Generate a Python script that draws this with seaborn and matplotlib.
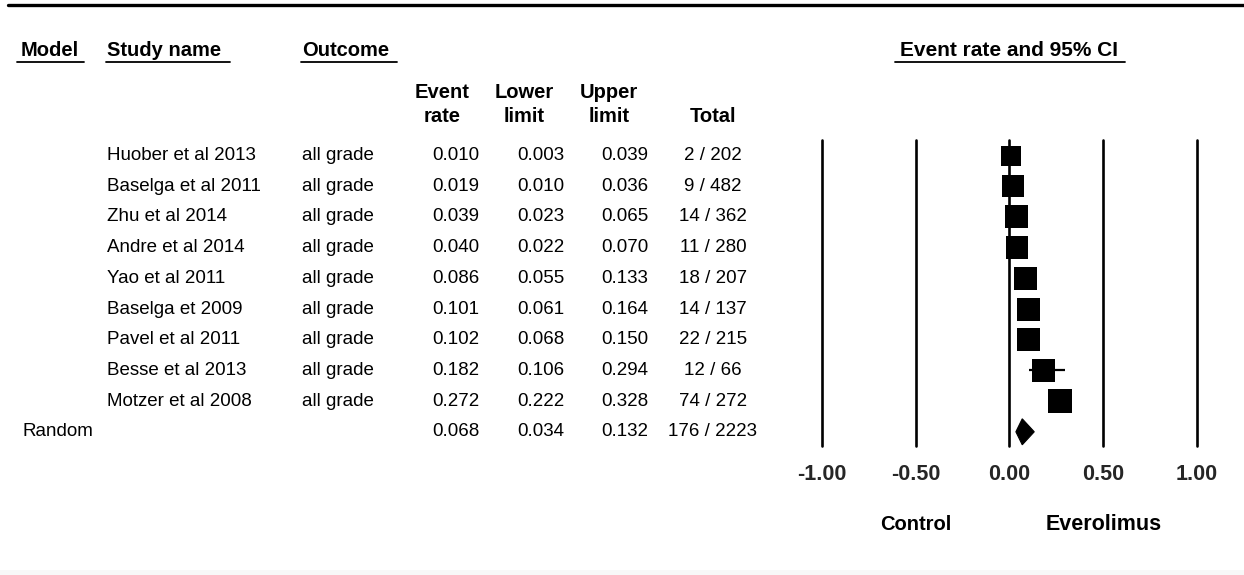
import matplotlib
matplotlib.use("Agg")
import matplotlib.pyplot as plt
from matplotlib.lines import Line2D
from matplotlib.patches import Polygon, Rectangle
from matplotlib.transforms import blended_transform_factory
import numpy as np
import pandas as pd
import seaborn as sns

# ---- study-level data -------------------------------------------------------
studies = ["Huober et al 2013", "Baselga et al 2011", "Zhu et al 2014",
           "Andre et al 2014", "Yao et al 2011", "Baselga et 2009",
           "Pavel et al 2011", "Besse et al 2013", "Motzer et al 2008"]
outcomes = ["all grade"] * 9
event_rate = [0.010, 0.019, 0.039, 0.040, 0.086, 0.101, 0.102, 0.182, 0.272]
lower_limit = [0.003, 0.010, 0.023, 0.022, 0.055, 0.061, 0.068, 0.106, 0.222]
upper_limit = [0.039, 0.036, 0.065, 0.070, 0.133, 0.164, 0.150, 0.294, 0.328]
events = [2, 9, 14, 11, 18, 14, 22, 12, 74]
totals = [202, 482, 362, 280, 207, 137, 215, 66, 272]

# ---- pooled (random-effects) estimate ---------------------------------------
pooled_label = "Random"
pooled_rate = 0.068
pooled_lower = 0.034
pooled_upper = 0.132
pooled_events = 176
pooled_total = 2223

axis_ticks = [-1.00, -0.50, 0.00, 0.50, 1.00]
left_label = "Control"
right_label = "Everolimus"

df = pd.DataFrame({
    "study": studies, "outcome": outcomes, "rate": event_rate,
    "lower": lower_limit, "upper": upper_limit,
    "events": events, "total": totals,
})
df["row"] = np.arange(len(df))
pooled_row = len(df)

# box side (px) grows with study weight
box_px = [20, 22.5, 23, 22.5, 23, 23, 23.5, 23, 24]
df["area"] = [(p * 0.72) ** 2 for p in box_px]

# ---- figure -----------------------------------------------------------------
W, H = 1244, 575
sns.set_theme(style="white")
plt.rcParams["font.family"] = ["Liberation Sans", "DejaVu Sans"]

fig = plt.figure(figsize=(W / 100, H / 100), dpi=100)
fig.patch.set_facecolor("white")

def fx(px):
    return px / W

def fy(py):
    return 1 - py / H

ax_left, ax_right, ax_top, ax_bot = 822, 1197, 140, 446
ax = fig.add_axes([fx(ax_left), fy(ax_bot), (ax_right - ax_left) / W,
                   (ax_bot - ax_top) / H])
ax.set_xlim(axis_ticks[0], axis_ticks[-1])
row_px0, row_step = 155.5, 30.7
ax.set_ylim((ax_bot - row_px0) / row_step, (ax_top - row_px0) / row_step)
ax.set_facecolor("none")
for s in ax.spines.values():
    s.set_visible(False)

# reference lines at each tick
for t in axis_ticks:
    ax.axvline(t, color="black", lw=1.9, clip_on=False, zorder=1)

# confidence intervals
ax.hlines(df["row"], df["lower"], df["upper"], color="black", lw=1.6, zorder=2)

# study boxes
sns.scatterplot(data=df, x="rate", y="row", marker="s", s=df["area"],
                color="black", linewidth=0, legend=False, ax=ax, zorder=3)

# pooled diamond
half_h = 13 / row_step
diamond = Polygon([[pooled_lower, pooled_row], [pooled_rate, pooled_row - half_h],
                   [pooled_upper, pooled_row], [pooled_rate, pooled_row + half_h]],
                  closed=True, facecolor="black", edgecolor="black", lw=0.8,
                  zorder=3)
ax.add_patch(diamond)

ax.set_xticks(axis_ticks)
ax.set_xticklabels([f"{t:.2f}" for t in axis_ticks], fontsize=15.5,
                   fontweight="bold")
ax.tick_params(axis="x", length=0, pad=13)
ax.set_yticks([])
ax.set_xlabel("")
ax.set_ylabel("")

# ---- table text -------------------------------------------------------------
row_tf = blended_transform_factory(fig.transFigure, ax.transData)
txt = dict(fontsize=13.5, color="black", va="center")
for _, r in df.iterrows():
    y = r["row"]
    fig.text(fx(107), y, r["study"], transform=row_tf, ha="left", **txt)
    fig.text(fx(302), y, r["outcome"], transform=row_tf, ha="left", **txt)
    fig.text(fx(456), y, f"{r['rate']:.3f}", transform=row_tf, ha="center", **txt)
    fig.text(fx(541), y, f"{r['lower']:.3f}", transform=row_tf, ha="center", **txt)
    fig.text(fx(625), y, f"{r['upper']:.3f}", transform=row_tf, ha="center", **txt)
    fig.text(fx(713), y, f"{r['events']} / {r['total']}", transform=row_tf,
             ha="center", **txt)

fig.text(fx(23), pooled_row, pooled_label, transform=row_tf, ha="left", **txt)
fig.text(fx(456), pooled_row, f"{pooled_rate:.3f}", transform=row_tf, ha="center", **txt)
fig.text(fx(541), pooled_row, f"{pooled_lower:.3f}", transform=row_tf, ha="center", **txt)
fig.text(fx(625), pooled_row, f"{pooled_upper:.3f}", transform=row_tf, ha="center", **txt)
fig.text(fx(713), pooled_row, f"{pooled_events} / {pooled_total}", transform=row_tf,
         ha="center", **txt)

# ---- headers ----------------------------------------------------------------
hdr = dict(fontsize=14.5, fontweight="bold", color="black", va="center")
fig.text(fx(21), fy(50), "Model", ha="left", **hdr)
fig.text(fx(107), fy(50), "Study name", ha="left", **hdr)
fig.text(fx(302), fy(50), "Outcome", ha="left", **hdr)
fig.text(fx(1009), fy(50), "Event rate and 95% CI", ha="center",
         **{**hdr, "fontsize": 15})

for x0, x1 in [(17, 84), (106, 230), (301, 397), (895, 1125)]:
    fig.add_artist(Line2D([fx(x0), fx(x1)], [fy(62), fy(62)], color="black",
                          lw=1.3, transform=fig.transFigure))

fig.text(fx(442), fy(92), "Event", ha="center", **hdr)
fig.text(fx(442), fy(116), "rate", ha="center", **hdr)
fig.text(fx(524), fy(92), "Lower", ha="center", **hdr)
fig.text(fx(524), fy(116), "limit", ha="center", **hdr)
fig.text(fx(609), fy(92), "Upper", ha="center", **hdr)
fig.text(fx(609), fy(116), "limit", ha="center", **hdr)
fig.text(fx(713), fy(116), "Total", ha="center", **hdr)

# direction labels under the axis
dir_tf = blended_transform_factory(ax.transData, fig.transFigure)
fig.text(-0.5, fy(524), left_label, transform=dir_tf, ha="center", **hdr)
fig.text(0.5, fy(524), right_label, transform=dir_tf, ha="center",
         **{**hdr, "fontsize": 15.5})

# top rule and faint bottom band
fig.add_artist(Line2D([fx(8), 1.0], [fy(5), fy(5)], color="black", lw=2.4,
                      transform=fig.transFigure))
fig.add_artist(Rectangle((0, 0), 1, 5 / H, transform=fig.transFigure,
                         facecolor="#f8f8f8", edgecolor="none", zorder=0))

fig.savefig("out.png", dpi=100, facecolor="white")
